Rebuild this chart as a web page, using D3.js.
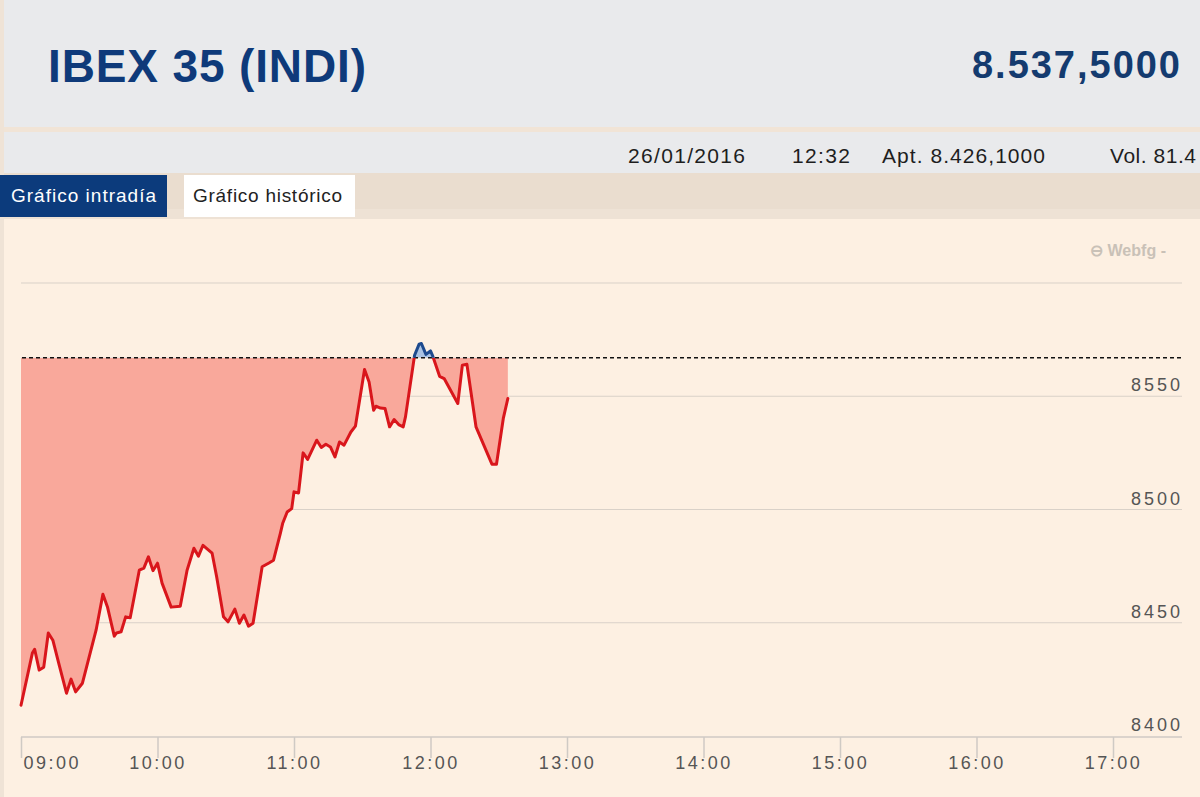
<!DOCTYPE html>
<html>
<head>
<meta charset="utf-8">
<script src="https://cdn.jsdelivr.net/npm/d3@7"></script>
<style>
  html, body { margin: 0; padding: 0; background: #fdf0e2; }
  svg { display: block; }
  text { font-family: "Liberation Sans", Arial, sans-serif; }
</style>
</head>
<body>
<svg id="chart" width="1200" height="797"></svg>
<script>
// ---- data ----
const title = "IBEX 35 (INDI)";
const lastValue = "8.537,5000";
const infoItems = ["26/01/2016", "12:32", "Apt. 8.426,1000", "Vol. 81.4"];
const tabs = ["Gráfico intradía", "Gráfico histórico"];
const times = ["09:00","09:05","09:06","09:08","09:10","09:12","09:14","09:17","09:20","09:22","09:24","09:27","09:33","09:36","09:38","09:41","09:42","09:44","09:46","09:48","09:52","09:54","09:56","09:58",
"10:00","10:02","10:06","10:10","10:13","10:16","10:18","10:20","10:24","10:26","10:29","10:31","10:34","10:36","10:38","10:40","10:42","10:46","10:49","10:51","10:54","10:55","10:57","10:59",
"11:00","11:02","11:04","11:06","11:10","11:12","11:14","11:16","11:18","11:20","11:22","11:25","11:27","11:31","11:33","11:35","11:36","11:38","11:40","11:42","11:44","11:46","11:48","11:49","11:53","11:55","11:56","11:58",
"12:00","12:01","12:04","12:06","12:12","12:14","12:16","12:20","12:27","12:29","12:32","12:34"];
const values = [8413.6,8436.6,8438.3,8429.1,8430.4,8445.5,8442.3,8430.5,8418.9,8425.1,8419.5,8423.3,8446.7,8462.6,8457.0,8444.1,8445.5,8446.0,8452.6,8452.2,8473.2,8474.1,8479.1,8473.0,
8476.3,8467.5,8456.9,8457.3,8473.2,8482.9,8479.4,8484.2,8480.7,8470.3,8452.6,8450.4,8456.0,8449.8,8453.4,8448.5,8449.8,8474.7,8476.4,8477.6,8489.5,8493.8,8498.9,8500.4,
8507.8,8507.3,8525.0,8522.1,8530.6,8527.4,8528.8,8527.6,8523.2,8529.8,8528.4,8534.2,8536.8,8561.8,8556.3,8543.8,8545.6,8544.8,8544.6,8536.5,8539.7,8537.5,8536.5,8540.9,8568.1,8573.0,8573.3,8568.5,
8570.0,8567.7,8558.8,8557.8,8546.8,8563.7,8564.1,8536.5,8520.0,8520.0,8540.2,8549.0];
const refValue = 8567;
const yTicks = [8400, 8450, 8500, 8550];
const yGrid = [8450, 8500, 8550, 8600];
const xTickLabels = ["09:00","10:00","11:00","12:00","13:00","14:00","15:00","16:00","17:00"];

// ---- setup ----
const parse = d3.timeParse("%H:%M");
const data = times.map((t, i) => ({ t: parse(t), v: values[i] }));
const svg = d3.select("#chart");

// backgrounds
svg.append("rect").attr("x", 0).attr("y", 0).attr("width", 1200).attr("height", 797).attr("fill", "#fdf0e2");
svg.append("rect").attr("x", 0).attr("y", 0).attr("width", 1200).attr("height", 127).attr("fill", "#e9eaec");
svg.append("rect").attr("x", 0).attr("y", 127).attr("width", 1200).attr("height", 5).attr("fill", "#f1e4d6");
svg.append("rect").attr("x", 0).attr("y", 132).attr("width", 1200).attr("height", 41).attr("fill", "#e9eaec");
svg.append("rect").attr("x", 0).attr("y", 173).attr("width", 1200).attr("height", 36).attr("fill", "#eaddcf");
svg.append("rect").attr("x", 0).attr("y", 209).attr("width", 1200).attr("height", 10).attr("fill", "#eee2d5");
svg.append("rect").attr("x", 0).attr("y", 0).attr("width", 4).attr("height", 797).attr("fill", "#efe3d6");

// header
svg.append("text").attr("x", 48).attr("y", 82).attr("font-size", 46).attr("font-weight", "bold")
  .attr("fill", "#0e3a7a").attr("textLength", 318).attr("lengthAdjust", "spacing").text(title);
svg.append("text").attr("x", 972).attr("y", 78).attr("font-size", 38).attr("font-weight", "bold")
  .attr("fill", "#143b6f").attr("textLength", 208).attr("lengthAdjust", "spacing").text(lastValue);

const infoX = [628, 792, 882, 1110];
const infoW = [117, 58, 163, 86];
infoItems.forEach((s, i) => {
  svg.append("text").attr("x", infoX[i]).attr("y", 163).attr("font-size", 21)
    .attr("fill", "#1e1e1e").attr("textLength", infoW[i]).attr("lengthAdjust", "spacing").text(s);
});

// tabs
svg.append("rect").attr("x", 0).attr("y", 175).attr("width", 167).attr("height", 42).attr("fill", "#0c3b7c");
svg.append("text").attr("x", 11).attr("y", 202).attr("font-size", 19).attr("fill", "#ffffff")
  .attr("textLength", 145).attr("lengthAdjust", "spacing").text(tabs[0]);
svg.append("rect").attr("x", 184).attr("y", 175).attr("width", 171).attr("height", 42).attr("fill", "#ffffff");
svg.append("text").attr("x", 193).attr("y", 202).attr("font-size", 19).attr("fill", "#222")
  .attr("textLength", 149).attr("lengthAdjust", "spacing").text(tabs[1]);

// watermark
svg.append("text").attr("x", 1090).attr("y", 256).attr("font-size", 16).attr("font-weight", "bold")
  .attr("fill", "#c9c1b7").attr("font-family", "'DejaVu Sans', sans-serif")
  .attr("textLength", 76).attr("lengthAdjust", "spacing")
  .text("⊖ Webfg -");

// scales
const x = d3.scaleTime().domain([parse("09:00"), parse("17:00")]).range([21, 1113]);
const y = d3.scaleLinear().domain([8400, 8600]).range([736, 283]);
const xRight = 1182;

// gridlines
svg.append("g").selectAll("line").data(yGrid).join("line")
  .attr("x1", 21).attr("x2", xRight).attr("y1", d => y(d)).attr("y2", d => y(d))
  .attr("stroke", "#d9d1c8").attr("stroke-width", 1);

// clip paths
const yRef = y(refValue);
const defs = svg.append("defs");
defs.append("clipPath").attr("id", "below").append("rect")
  .attr("x", 0).attr("y", yRef).attr("width", 1200).attr("height", 797 - yRef);
defs.append("clipPath").attr("id", "above").append("rect")
  .attr("x", 0).attr("y", 0).attr("width", 1200).attr("height", yRef);

// area
const area = d3.area().x(d => x(d.t)).y0(yRef).y1(d => y(d.v));
svg.append("path").datum(data).attr("d", area).attr("fill", "#f9a89b").attr("clip-path", "url(#below)");
svg.append("path").datum(data).attr("d", area).attr("fill", "#aac3e3").attr("clip-path", "url(#above)");

// x axis
const xAxis = d3.axisBottom(x)
  .tickValues(xTickLabels.map(parse))
  .tickSize(21)
  .tickFormat(d3.timeFormat("%H:%M"));
const gx = svg.append("g").attr("transform", `translate(0,${y(8400) + 1})`).call(xAxis);
gx.select(".domain").attr("d", `M21,0H${xRight}`).attr("stroke", "#cfcac4").attr("stroke-width", 1.5);
gx.selectAll(".tick line").attr("stroke", "#cfcac4").attr("stroke-width", 1.5);
gx.selectAll(".tick text").attr("font-size", 18).attr("fill", "#555").attr("dy", 0).attr("y", 32)
  .attr("letter-spacing", 2.5)
  .attr("font-family", "'Liberation Sans', Arial, sans-serif");
gx.selectAll(".tick text").filter((d, i) => i === 0).attr("text-anchor", "start").attr("dx", 2);

// y labels
svg.append("g").selectAll("text").data(yTicks).join("text")
  .attr("x", 1183).attr("y", d => y(d) - 5).attr("text-anchor", "end")
  .attr("font-size", 18).attr("fill", "#555").attr("letter-spacing", 3)
  .text(d => d);

// reference dashed line
svg.append("line").attr("x1", 22).attr("x2", xRight).attr("y1", yRef).attr("y2", yRef)
  .attr("stroke", "#111").attr("stroke-width", 1.6).attr("stroke-dasharray", "4,3");

// price line
const line = d3.line().x(d => x(d.t)).y(d => y(d.v));
svg.append("path").datum(data).attr("d", line).attr("fill", "none").attr("stroke", "#d9161c")
  .attr("stroke-width", 3).attr("stroke-linejoin", "round").attr("stroke-linecap", "round").attr("clip-path", "url(#below)");
svg.append("path").datum(data).attr("d", line).attr("fill", "none").attr("stroke", "#1d4a8e")
  .attr("stroke-width", 3).attr("stroke-linejoin", "round").attr("stroke-linecap", "round").attr("clip-path", "url(#above)");
</script>
</body>
</html>
